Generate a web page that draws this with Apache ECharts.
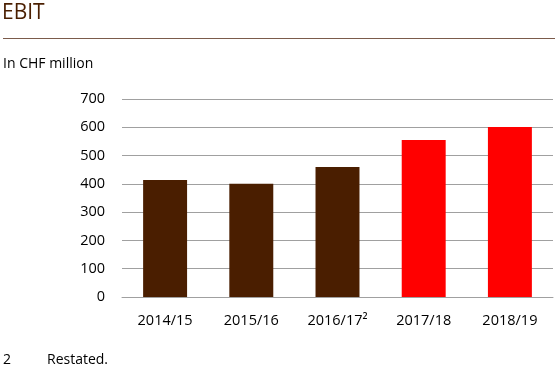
<!DOCTYPE html>
<html><head><meta charset="utf-8">
<script src="https://cdn.jsdelivr.net/npm/echarts@6/dist/echarts.min.js"></script>
<style>html,body{margin:0;padding:0;background:#fff}#c{width:555px;height:375px}</style>
</head><body><div id="c"></div>
<script>
var categories = ['2014/15', '2015/16', '2016/17\u00b2', '2017/18', '2018/19'];
var ebitValues = [414, 400, 460, 555, 601];
var barColors = ['#4a1e00', '#4a1e00', '#4a1e00', '#ff0000', '#ff0000'];
var yTicks = [0, 100, 200, 300, 400, 500, 600, 700];
var FONT = "'Open Sans', 'Noto Sans', sans-serif";

var chart = echarts.init(document.getElementById('c'), null, {renderer: 'canvas'});
chart.setOption({
  animation: false,
  title: {
    text: 'EBIT', left: 2, top: 3, padding: 0,
    textStyle: {color: '#4a1e00', fontSize: 21, fontWeight: 'normal', fontFamily: FONT}
  },
  graphic: [
    {type: 'line', shape: {x1: 3, y1: 38.5, x2: 555, y2: 38.5}, style: {stroke: '#7b5b4b', lineWidth: 1}},
    {type: 'text', left: 3, top: 57, style: {text: 'In CHF million', fill: '#000', font: '14px ' + FONT}},
    {type: 'text', left: 3, top: 353, style: {text: '2', fill: '#000', font: '14px ' + FONT}},
    {type: 'text', left: 47, top: 353, style: {text: 'Restated.', fill: '#000', font: '14px ' + FONT}}
  ],
  grid: {left: 122, right: 2, top: 99, bottom: 78, containLabel: false},
  xAxis: {
    type: 'category', data: categories,
    axisLine: {lineStyle: {color: '#a0a0a0'}},
    axisTick: {show: false},
    axisLabel: {color: '#000', fontSize: 14.5, fontFamily: FONT, margin: 16}
  },
  yAxis: {
    type: 'value', min: yTicks[0], max: yTicks[yTicks.length - 1], interval: 100,
    axisLine: {show: false}, axisTick: {show: false},
    splitLine: {lineStyle: {color: '#a0a0a0', width: 1}},
    axisLabel: {color: '#000', fontSize: 14.5, fontFamily: FONT, margin: 17}
  },
  series: [{
    type: 'bar', barWidth: '51%',
    data: ebitValues.map(function (v, i) { return {value: v, itemStyle: {color: barColors[i]}}; })
  }]
});
</script></body></html>
